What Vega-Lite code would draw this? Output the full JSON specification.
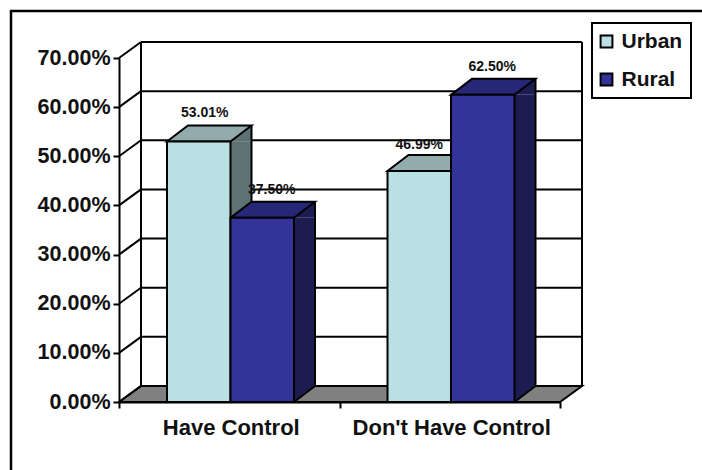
{
  "$schema": "https://vega.github.io/schema/vega-lite/v6.json",
  "width": 702,
  "height": 470,
  "padding": 0,
  "autosize": {"type": "none"},
  "background": "white",
  "view": {"stroke": null},
  "config": {"font": "Liberation Sans", "legend": {"strokeWidth": 2}},
  "resolve": {"scale": {"xOffset": "independent"}},
  "datasets": {
    "bars": [
      {"category": "Have Control", "series": "Urban", "share": 0.5301},
      {"category": "Have Control", "series": "Rural", "share": 0.375},
      {"category": "Don't Have Control", "series": "Urban", "share": 0.4699},
      {"category": "Don't Have Control", "series": "Rural", "share": 0.625}
    ],
    "ticks": [
      {"tick": 0.1}, {"tick": 0.2}, {"tick": 0.3}, {"tick": 0.4},
      {"tick": 0.5}, {"tick": 0.6}, {"tick": 0.7}
    ],
    "allTicks": [
      {"tick": 0}, {"tick": 0.1}, {"tick": 0.2}, {"tick": 0.3}, {"tick": 0.4},
      {"tick": 0.5}, {"tick": 0.6}, {"tick": 0.7}
    ],
    "frame": [{"edge": "frame"}]
  },
  "layer": [
    {
      "description": "Frame around the chart",
      "data": {"name": "frame"},
      "mark": {"type": "rule", "stroke": "black", "strokeWidth": 2.5},
      "encoding": {"x": {"value": 11}, "y": {"value": 10}, "y2": {"value": 470}}
    },
    {
      "data": {"name": "frame"},
      "mark": {"type": "rule", "stroke": "black", "strokeWidth": 2.5},
      "encoding": {"x": {"value": 10}, "x2": {"value": 702}, "y": {"value": 11}}
    },
    {
      "description": "Grey floor of the 3D plot box; this layer also carries the value axis",
      "data": {"values": [{"tick": 0}]},
      "mark": {"type": "point", "filled": true, "opacity": 1, "size": 4, "fill": "#808080", "stroke": "black", "strokeWidth": 2, "shape": "M0,0L22,-16L463,-16L441,0Z"},
      "encoding": {
        "x": {"value": 119},
        "y": {
          "field": "tick",
          "type": "quantitative",
          "title": null,
          "scale": {"domain": [0, 0.7], "range": [402, 58]},
          "axis": {
            "orient": "left",
            "offset": -119,
            "values": [0, 0.1, 0.2, 0.3, 0.4, 0.5, 0.6, 0.7],
            "format": ".2%",
            "grid": false,
            "labelFont": "Liberation Sans",
            "labelFontSize": 21.5,
            "labelFontWeight": "bold",
            "labelColor": "#111111",
            "labelPadding": 3,
            "tickSize": 6,
            "tickWidth": 2,
            "tickColor": "black",
            "domainColor": "black",
            "domainWidth": 2
          }
        }
      }
    },
    {
      "description": "Back wall gridlines",
      "data": {"name": "ticks"},
      "mark": {"type": "rule", "stroke": "black", "strokeWidth": 2, "yOffset": -16},
      "encoding": {
        "x": {"value": 141},
        "x2": {"value": 582},
        "y": {"field": "tick", "type": "quantitative"}
      }
    },
    {
      "description": "Side wall gridlines running back from each tick",
      "data": {"name": "allTicks"},
      "mark": {"type": "point", "opacity": 1, "filled": false, "size": 4, "stroke": "black", "strokeWidth": 2, "shape": "M0,0L22,-16"},
      "encoding": {
        "x": {"value": 119},
        "y": {"field": "tick", "type": "quantitative"}
      }
    },
    {
      "description": "Back wall vertical edges",
      "data": {"values": [{"low": 0, "high": 0.7}]},
      "mark": {"type": "rule", "stroke": "black", "strokeWidth": 2, "yOffset": -16, "y2Offset": -16},
      "encoding": {
        "x": {"value": 141},
        "y": {"field": "high", "type": "quantitative"},
        "y2": {"field": "low"}
      }
    },
    {
      "data": {"values": [{"low": 0, "high": 0.7}]},
      "mark": {"type": "rule", "stroke": "black", "strokeWidth": 2, "yOffset": -16, "y2Offset": -16},
      "encoding": {
        "x": {"value": 582},
        "y": {"field": "high", "type": "quantitative"},
        "y2": {"field": "low"}
      }
    },
    {
      "description": "Side face body of each bar, shifted past the front face by its own offset scale",
      "data": {"name": "bars"},
      "mark": {"type": "rule", "strokeWidth": 21, "strokeCap": "butt", "y2Offset": -16},
      "encoding": {
        "x": {"field": "category", "type": "nominal", "sort": null},
        "xOffset": {"field": "series", "type": "nominal", "sort": ["Urban", "Rural"], "scale": {"type": "band", "range": [90.25, 217.25], "paddingInner": 0, "paddingOuter": 0}},
        "y": {"field": "share", "type": "quantitative"},
        "y2": {"datum": 0},
        "color": {"condition": {"test": "datum.series === 'Urban'", "value": "#5F7272"}, "value": "#1C1C50"}
      }
    },
    {
      "description": "Upper triangle of each side face",
      "data": {"name": "bars"},
      "mark": {"type": "point", "filled": true, "opacity": 1, "size": 4, "strokeWidth": 0, "shape": "M31.75,0L52.75,-16L52.75,0Z"},
      "encoding": {
        "x": {"field": "category", "type": "nominal", "sort": null},
        "xOffset": {"field": "series", "type": "nominal", "sort": ["Urban", "Rural"], "scale": {"type": "band", "range": [48, 175], "paddingInner": 0, "paddingOuter": 0}},
        "y": {"field": "share", "type": "quantitative"},
        "fill": {"condition": {"test": "datum.series === 'Urban'", "value": "#5F7272"}, "value": "#1C1C50"}
      }
    },
    {
      "description": "Lower triangle of each side face",
      "data": {"name": "bars"},
      "mark": {"type": "point", "filled": true, "opacity": 1, "size": 4, "strokeWidth": 0, "shape": "M52.75,-16L31.75,0L31.75,-16Z"},
      "encoding": {
        "x": {"field": "category", "type": "nominal", "sort": null},
        "xOffset": {"field": "series", "type": "nominal", "sort": ["Urban", "Rural"], "scale": {"type": "band", "range": [48, 175], "paddingInner": 0, "paddingOuter": 0}},
        "y": {"datum": 0},
        "fill": {"condition": {"test": "datum.series === 'Urban'", "value": "#5F7272"}, "value": "#1C1C50"}
      }
    },
    {
      "description": "Rear vertical edge of each side face",
      "data": {"name": "bars"},
      "mark": {"type": "rule", "stroke": "black", "strokeWidth": 2, "yOffset": -16, "y2Offset": -16},
      "encoding": {
        "x": {"field": "category", "type": "nominal", "sort": null},
        "xOffset": {"field": "series", "type": "nominal", "sort": ["Urban", "Rural"], "scale": {"type": "band", "range": [100.75, 227.75], "paddingInner": 0, "paddingOuter": 0}},
        "y": {"field": "share", "type": "quantitative"},
        "y2": {"datum": 0}
      }
    },
    {
      "description": "Bottom edge of each side face",
      "data": {"name": "bars"},
      "mark": {"type": "point", "filled": false, "opacity": 1, "size": 4, "stroke": "black", "strokeWidth": 2, "shape": "M31.75,0L52.75,-16"},
      "encoding": {
        "x": {"field": "category", "type": "nominal", "sort": null},
        "xOffset": {"field": "series", "type": "nominal", "sort": ["Urban", "Rural"], "scale": {"type": "band", "range": [48, 175], "paddingInner": 0, "paddingOuter": 0}},
        "y": {"datum": 0}
      }
    },
    {
      "description": "Top face of each bar",
      "data": {"name": "bars"},
      "mark": {"type": "point", "filled": true, "opacity": 1, "size": 4, "stroke": "black", "strokeWidth": 2, "strokeJoin": "miter", "shape": "M-31.75,0L-10.75,-16L52.75,-16L31.75,0Z"},
      "encoding": {
        "x": {"field": "category", "type": "nominal", "sort": null},
        "xOffset": {"field": "series", "type": "nominal", "sort": ["Urban", "Rural"], "scale": {"type": "band", "range": [48, 175], "paddingInner": 0, "paddingOuter": 0}},
        "y": {"field": "share", "type": "quantitative"},
        "fill": {"condition": {"test": "datum.series === 'Urban'", "value": "#92ABAD"}, "value": "#27277A"}
      }
    },
    {
      "description": "Front face of each bar, which also carries the category axis and legend",
      "data": {"name": "bars"},
      "mark": {"type": "bar", "stroke": "black", "strokeWidth": 2, "opacity": 1},
      "encoding": {
        "x": {
          "field": "category",
          "type": "nominal",
          "sort": null,
          "title": null,
          "scale": {"range": [119, 560], "paddingInner": 0, "paddingOuter": 0},
          "axis": {
            "orient": "bottom",
            "offset": -68,
            "zindex": 1,
            "labelAngle": 0,
            "labelAlign": "center",
            "labelFont": "Liberation Sans",
            "labelFontSize": 22,
            "labelFontWeight": "bold",
            "labelColor": "#111111",
            "labelPadding": 19,
            "labelOffset": 1.5,
            "labelLimit": 300,
            "tickBand": "extent",
            "tickSize": 6,
            "tickWidth": 2,
            "tickColor": "black",
            "domainColor": "black",
            "domainWidth": 2
          }
        },
        "xOffset": {
          "field": "series",
          "type": "nominal",
          "sort": ["Urban", "Rural"],
          "scale": {"type": "band", "range": [48, 175], "paddingInner": 0, "paddingOuter": 0}
        },
        "y": {"field": "share", "type": "quantitative"},
        "y2": {"datum": 0},
        "color": {
          "field": "series",
          "type": "nominal",
          "scale": {"domain": ["Urban", "Rural"], "range": ["#B9E0E3", "#333399"]},
          "legend": {
            "title": null,
            "orient": "none",
            "legendX": 592,
            "legendY": 23,
            "fillColor": "white",
            "strokeColor": "black",
            "padding": 8,
            "symbolType": "square",
            "symbolSize": 140,
            "symbolOffset": -4,
            "symbolStrokeColor": "black",
            "symbolStrokeWidth": 2,
            "symbolOpacity": 1,
            "labelFont": "Liberation Sans",
            "labelFontSize": 21,
            "labelFontWeight": "bold",
            "labelColor": "#111111",
            "labelOffset": 4.5,
            "rowPadding": 16
          }
        }
      }
    },
    {
      "description": "Value label for the rural bars",
      "data": {"name": "bars"},
      "transform": [{"filter": "datum.series === 'Rural'"}],
      "mark": {"type": "text", "font": "Liberation Sans", "fontSize": 14, "fontWeight": "bold", "color": "#111111", "dx": 9.5, "dy": -24, "baseline": "alphabetic"},
      "encoding": {
        "x": {"field": "category", "type": "nominal", "sort": null},
        "xOffset": {"field": "series", "type": "nominal", "scale": {"type": "band", "domain": ["Urban", "Rural"], "range": [48, 175], "paddingInner": 0, "paddingOuter": 0}},
        "y": {"field": "share", "type": "quantitative"},
        "text": {"field": "share", "type": "quantitative", "format": ".2%"}
      }
    },
    {
      "description": "Value label for the urban bars",
      "data": {"name": "bars"},
      "transform": [{"filter": "datum.series === 'Urban' && datum.category === 'Have Control'"}],
      "mark": {"type": "text", "font": "Liberation Sans", "fontSize": 14, "fontWeight": "bold", "color": "#111111", "dx": 6, "dy": -24, "baseline": "alphabetic"},
      "encoding": {
        "x": {"field": "category", "type": "nominal", "sort": null},
        "xOffset": {"field": "series", "type": "nominal", "scale": {"type": "band", "domain": ["Urban", "Rural"], "range": [48, 175], "paddingInner": 0, "paddingOuter": 0}},
        "y": {"field": "share", "type": "quantitative"},
        "text": {"field": "share", "type": "quantitative", "format": ".2%"}
      }
    },
    {
      "data": {"name": "bars"},
      "transform": [{"filter": "datum.series === 'Urban' && datum.category !== 'Have Control'"}],
      "mark": {"type": "text", "font": "Liberation Sans", "fontSize": 14, "fontWeight": "bold", "color": "#111111", "dx": 0, "dy": -22, "baseline": "alphabetic"},
      "encoding": {
        "x": {"field": "category", "type": "nominal", "sort": null},
        "xOffset": {"field": "series", "type": "nominal", "scale": {"type": "band", "domain": ["Urban", "Rural"], "range": [48, 175], "paddingInner": 0, "paddingOuter": 0}},
        "y": {"field": "share", "type": "quantitative"},
        "text": {"field": "share", "type": "quantitative", "format": ".2%"}
      }
    }
  ]
}
